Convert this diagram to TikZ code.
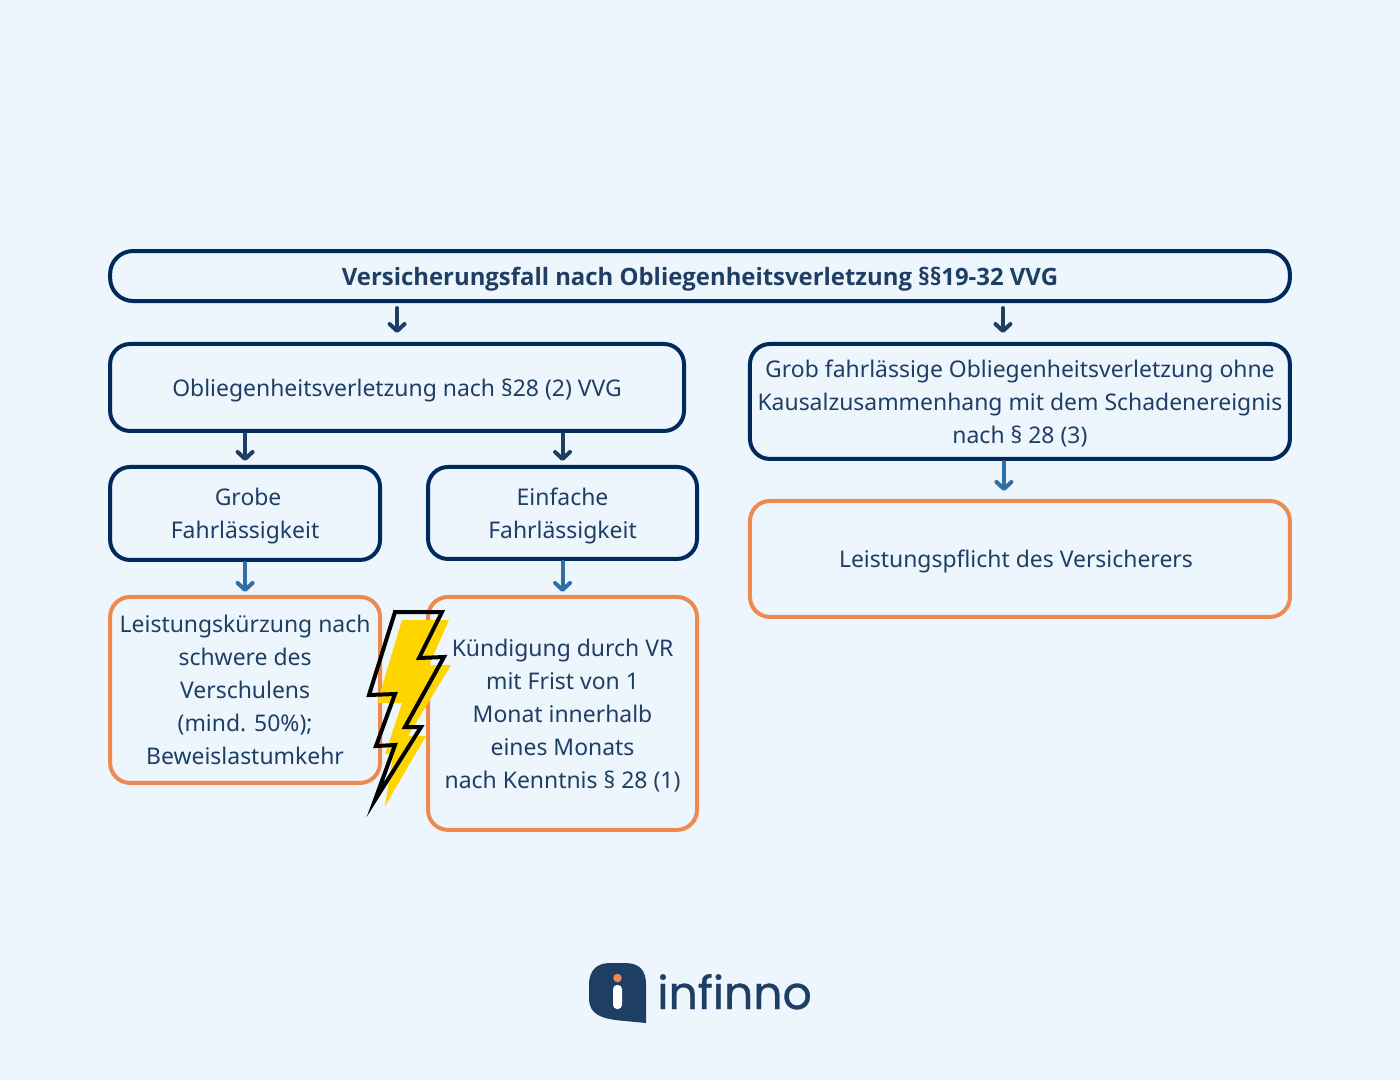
\documentclass[tikz,border=0pt]{standalone}
\usepackage{fontspec}
\setmainfont{Noto Sans}
\newfontfamily\titlefont{Open Sans}
\newfontfamily\logofont[FakeBold=0.7]{Poppins}
\usepackage{xcolor}
\definecolor{pagebg}{HTML}{EDF6FD}
\definecolor{navy}{HTML}{002A5C}
\definecolor{ink}{HTML}{1F3E64}
\definecolor{steel}{HTML}{2F6FA3}
\definecolor{signal}{HTML}{EE8A4F}
\definecolor{bolt}{HTML}{FFD500}
\usetikzlibrary{arrows.meta, positioning}

\begin{document}
\begin{tikzpicture}[
  x=0.02cm, y=-0.02cm,
  every node/.style={font=\fontsize{13.05}{18.8}\selectfont, text=ink},
  box/.style={draw=navy, line width=0.08cm, rounded corners=0.4cm, outer sep=0pt,
              align=center, inner sep=0pt, text depth=0pt},
  result/.style={box, draw=signal},
  arrow/.style={-{Straight Barb[length=0.14cm, width=0.3cm, round]}, line width=0.08cm,
                line cap=round, color=ink, shorten <=0.06cm},
  larrow/.style={arrow, color=steel},
]
\useasboundingbox (0,0) rectangle (1400,1080);
\fill[pagebg] (0,0) rectangle (1400,1080);

% Row 1 — title
\node[box, minimum width=23.6cm, minimum height=1cm, rounded corners=0.46cm] (title) at (700,276)
  {\titlefont\bfseries\fontsize{13.6}{18.8}\selectfont Versicherungsfall nach Obliegenheitsverletzung §§19-32 VVG};

% Row 2 — violation
\node[box, minimum width=11.48cm, minimum height=1.74cm, below=0.86cm of title.south west, anchor=north west] (oblig)
  {Obliegenheitsverletzung nach §28 (2) VVG};
\node[box, minimum width=10.8cm, minimum height=2.3cm, below=0.86cm of title.south east, anchor=north east] (kausal)
  {Grob fahrlässige Obliegenheitsverletzung ohne\\Kausalzusammenhang mit dem Schadenereignis\\nach § 28 (3)};

% Row 3 — degree of fault
\node[box, minimum width=5.4cm, minimum height=1.86cm, below=0.72cm of oblig.south west, anchor=north west] (grob)
  {Grobe\hspace*{-0.12cm}\\Fahrlässigkeit};
\node[box, minimum width=5.38cm, minimum height=1.84cm, right=0.96cm of grob.north east, anchor=north west] (einfach)
  {Einfache\\Fahrlässigkeit};

% Row 4 — consequences
\node[result, minimum width=5.4cm, minimum height=3.72cm, below=0.74cm of grob.south west, anchor=north west] (kuerzung)
  {Leistungskürzung nach\\schwere des\\Verschulens\hspace*{0.1cm}\\(mind. 50\%);\\Beweislastumkehr};
\node[result, minimum width=5.38cm, minimum height=4.66cm, below=0.76cm of einfach.south west, anchor=north west] (kuendigung)
  {Kündigung durch VR\\mit Frist von 1\\Monat innerhalb\\eines Monats\\nach Kenntnis § 28 (1)};
\node[result, minimum width=10.8cm, minimum height=2.32cm, below=0.84cm of kausal.south west, anchor=north west] (pflicht)
  {Leistungspflicht des Versicherers\hspace*{0.16cm}};

% Arrows — top row
\draw[arrow, shorten <=0.14cm, shorten >=0.22cm] (title.south -| oblig.north) -- (oblig.north);
\draw[arrow, shorten <=0.14cm, shorten >=0.22cm] ([xshift=-0.34cm]kausal.north |- title.south) -- ([xshift=-0.34cm]kausal.north);
\draw[arrow, shorten >=0.12cm] (oblig.south -| grob.north) -- (grob.north);
\draw[arrow, shorten >=0.12cm] (oblig.south -| einfach.north) -- (einfach.north);

% Arrows — to the consequences
\draw[larrow, shorten >=0.1cm] (grob.south) -- (kuerzung.north);
\draw[larrow, shorten >=0.1cm] (einfach.south) -- (kuendigung.north);
\draw[larrow, shorten >=0.2cm] ([xshift=-0.32cm]kausal.south) -- ([xshift=-0.32cm]pflicht.north);

% Lightning bolt
\fill[bolt] (402,620) -- (449,620) -- (429,665) -- (451,665) -- (408,736) -- (426,736)
  -- (385,806) -- (393,754) -- (385,754) -- (402,703) -- (377,703) -- cycle;
\draw[black, line width=0.08cm, miter limit=20] (395,612) -- (442,612) -- (419,658) -- (444,657)
  -- (405,727) -- (421,727) -- (375,800) -- (395,745) -- (376,746) -- (395,694) -- (369,695) -- cycle;

% Logo
\fill[ink] (589,985) .. controls (589,970) and (597,963) .. (610,963) -- (625,963)
  .. controls (639,963) and (646,970) .. (646,984) -- (646,1023) -- (625,1021)
  .. controls (600,1019) and (589,1014) .. (589,998) -- cycle;
\fill[white, rounded corners=0.08cm] (613,985) rectangle (622,1009);
\fill[signal] (617.5,978) circle (0.085cm);
\node[font=\logofont\fontsize{26}{30}\selectfont, anchor=base west, inner sep=0pt] (brand) at (657,1009) {infinno};

\end{tikzpicture}
\end{document}
